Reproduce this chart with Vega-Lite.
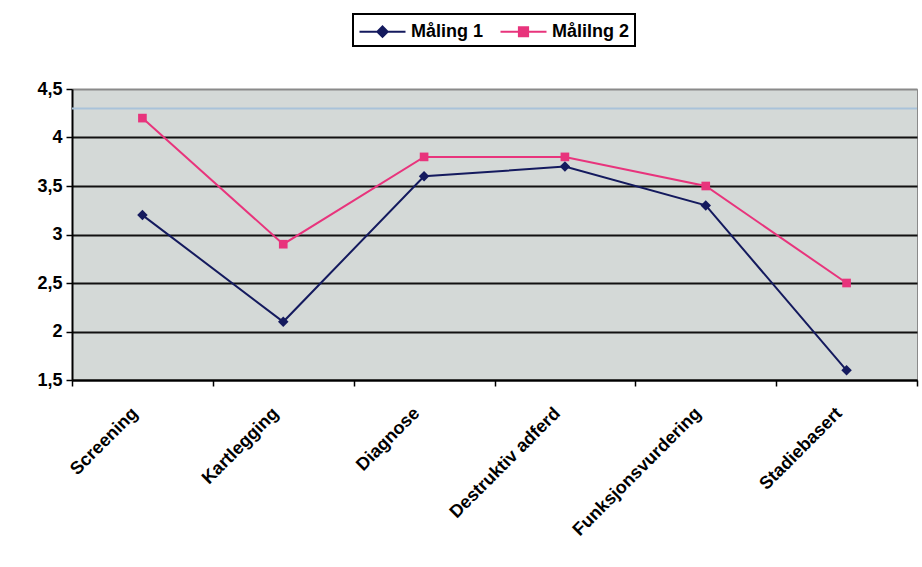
{
  "$schema": "https://vega.github.io/schema/vega-lite/v6.json",
  "width": 845,
  "height": 291,
  "autosize": "none",
  "padding": {"left": 72, "top": 89, "right": 5, "bottom": 187},
  "background": "white",
  "config": {
    "view": {"fill": "#d4d9d7", "stroke": "#8a8a8a", "strokeWidth": 1},
    "font": "Liberation Sans"
  },
  "layer": [
    {
      "data": {"values": [{"linje": 4.3}]},
      "mark": {"type": "rule", "color": "#a9c3da", "strokeWidth": 2},
      "encoding": {"y": {"field": "linje", "type": "quantitative", "scale": {"domain": [1.5, 4.5], "nice": false}}}
    },
    {
      "data": {"values": [
        {"kategori": "Screening", "serie": "Måling 1", "verdi": 3.2},
        {"kategori": "Kartlegging", "serie": "Måling 1", "verdi": 2.1},
        {"kategori": "Diagnose", "serie": "Måling 1", "verdi": 3.6},
        {"kategori": "Destruktiv adferd", "serie": "Måling 1", "verdi": 3.7},
        {"kategori": "Funksjonsvurdering", "serie": "Måling 1", "verdi": 3.3},
        {"kategori": "Stadiebasert", "serie": "Måling 1", "verdi": 1.6},
        {"kategori": "Screening", "serie": "Målilng 2", "verdi": 4.2},
        {"kategori": "Kartlegging", "serie": "Målilng 2", "verdi": 2.9},
        {"kategori": "Diagnose", "serie": "Målilng 2", "verdi": 3.8},
        {"kategori": "Destruktiv adferd", "serie": "Målilng 2", "verdi": 3.8},
        {"kategori": "Funksjonsvurdering", "serie": "Målilng 2", "verdi": 3.5},
        {"kategori": "Stadiebasert", "serie": "Målilng 2", "verdi": 2.5}
      ]},
      "encoding": {
        "x": {
          "field": "kategori", "type": "nominal", "sort": null,
          "axis": {
            "title": null, "labelAngle": -45, "labelFont": "Liberation Sans", "labelFontWeight": "bold",
            "labelFontSize": 18, "labelColor": "black", "labelPadding": 18, "labelOffset": -14,
            "domainColor": "black", "domainWidth": 2, "tickColor": "black", "tickWidth": 1.5, "tickSize": 6,
            "tickBand": "extent", "grid": false
          }
        },
        "y": {
          "field": "verdi", "type": "quantitative",
          "scale": {"domain": [1.5, 4.5], "nice": false},
          "axis": {
            "title": null, "values": [1.5, 2, 2.5, 3, 3.5, 4, 4.5],
            "labelExpr": "replace(toString(datum.value), '.', ',')",
            "labelFont": "Liberation Sans", "labelFontWeight": "bold", "labelFontSize": 18, "labelColor": "black",
            "labelPadding": 4, "domainColor": "black", "domainWidth": 2,
            "tickColor": "black", "tickWidth": 1.5, "tickSize": 6,
            "grid": true, "gridWidth": 2,
            "gridColor": {"condition": {"test": "datum.value == 4.5", "value": "#8a8a8a"}, "value": "#111111"}
          }
        },
        "color": {
          "field": "serie", "type": "nominal",
          "scale": {"domain": ["Måling 1", "Målilng 2"], "range": ["#141a5e", "#e8347c"]},
          "legend": {
            "orient": "none", "legendX": 281, "legendY": -75, "direction": "horizontal", "title": null,
            "strokeColor": "black", "fillColor": "white", "padding": 5,
            "labelFont": "Liberation Sans", "labelFontWeight": "bold", "labelFontSize": 18, "labelColor": "black",
            "symbolSize": 529, "symbolStrokeWidth": 2, "symbolOffset": 12, "labelOffset": 16, "columnPadding": 12,
            "symbolType": "M-2,0H2",
            "encode": {
              "legend": {"update": {"strokeWidth": {"value": 2}}},
              "symbols": {"update": {
                "shape": {"signal": "datum.value === 'Måling 1' ? 'M-2,0H2M0,-0.45L0.45,0L0,0.45L-0.45,0Z' : 'M-2,0H2M-0.4,-0.4H0.4V0.4H-0.4Z'"},
                "fill": {"signal": "scale('color', datum.value)"},
                "stroke": {"signal": "scale('color', datum.value)"},
                "strokeWidth": {"value": 2}
              }}
            }
          }
        }
      },
      "layer": [
        {"mark": {"type": "line", "strokeWidth": 2}},
        {"transform": [{"filter": "datum.serie === 'Måling 1'"}],
         "mark": {"type": "point", "shape": "diamond", "filled": true, "opacity": 1, "size": 110}},
        {"transform": [{"filter": "datum.serie === 'Målilng 2'"}],
         "mark": {"type": "point", "shape": "square", "filled": true, "opacity": 1, "size": 75}}
      ]
    }
  ]
}
